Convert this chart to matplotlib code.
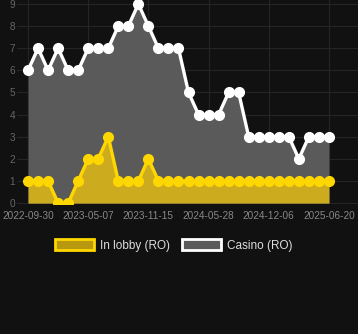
import numpy as np
import matplotlib
matplotlib.use("Agg")
from matplotlib import pyplot as plt
from matplotlib.patches import Patch

casino = [6, 7, 6, 7, 6, 6, 7, 7, 7, 8, 8, 9, 8, 7, 7, 7, 5, 4, 4, 4, 5, 5, 3, 3, 3, 3, 3, 2, 3, 3, 3]
lobby = [1, 1, 1, 0, 0, 1, 2, 2, 3, 1, 1, 1, 2, 1, 1, 1, 1, 1, 1, 1, 1, 1, 1, 1, 1, 1, 1, 1, 1, 1, 1]
tick_labels = ['2022-09-30', '2023-05-07', '2023-11-15', '2024-05-28', '2024-12-06', '2025-06-20']

plt.rcParams['font.family'] = ['Liberation Sans', 'DejaVu Sans']

bg = '#111111'
fig = plt.figure(figsize=(3.58, 3.34), dpi=100, facecolor=bg)
ax = fig.add_axes([0.0475, 0.389, 0.9525, 0.611], facecolor=bg)

x = np.arange(len(casino))

# casino first, lobby on top
ax.fill_between(x, casino, 0, color='#5a5a5a', lw=0, zorder=2)
ax.plot(x, casino, color='white', lw=2.4, marker='o', ms=7, zorder=3)
ax.fill_between(x, lobby, 0, color='#cdab1f', lw=0, zorder=4)
ax.plot(x, lobby, color='#ffd700', lw=2.4, marker='o', ms=7, zorder=5)

ax.set_xlim(-1.1, 32.9)
ax.set_ylim(-0.045, 9.18)
ax.set_yticks(range(10))
ax.set_xticks(x[::6])
ax.set_xticklabels(tick_labels)

ax.grid(True, color='#252525', lw=0.8, zorder=0)
for s in ax.spines.values():
    s.set_visible(False)
ax.tick_params(axis='y', length=0, pad=1.5, labelsize=7.2, labelcolor='#666666')
ax.tick_params(axis='x', length=0, pad=5, labelsize=7.2, labelcolor='#888888')

handles = [Patch(facecolor='#b8980f', edgecolor='#ffd700', lw=2, label='In lobby (RO)'),
           Patch(facecolor='#5a5a5a', edgecolor='white', lw=2, label='Casino (RO)')]
fig.legend(handles=handles, loc='center', bbox_to_anchor=(0.485, 0.265), ncol=2, frameon=False,
           fontsize=8.5, labelcolor='#dddddd', handlelength=3.3, handleheight=1.1,
           columnspacing=1.0, handletextpad=0.5)

fig.savefig('out.png', dpi=100, facecolor=bg)
